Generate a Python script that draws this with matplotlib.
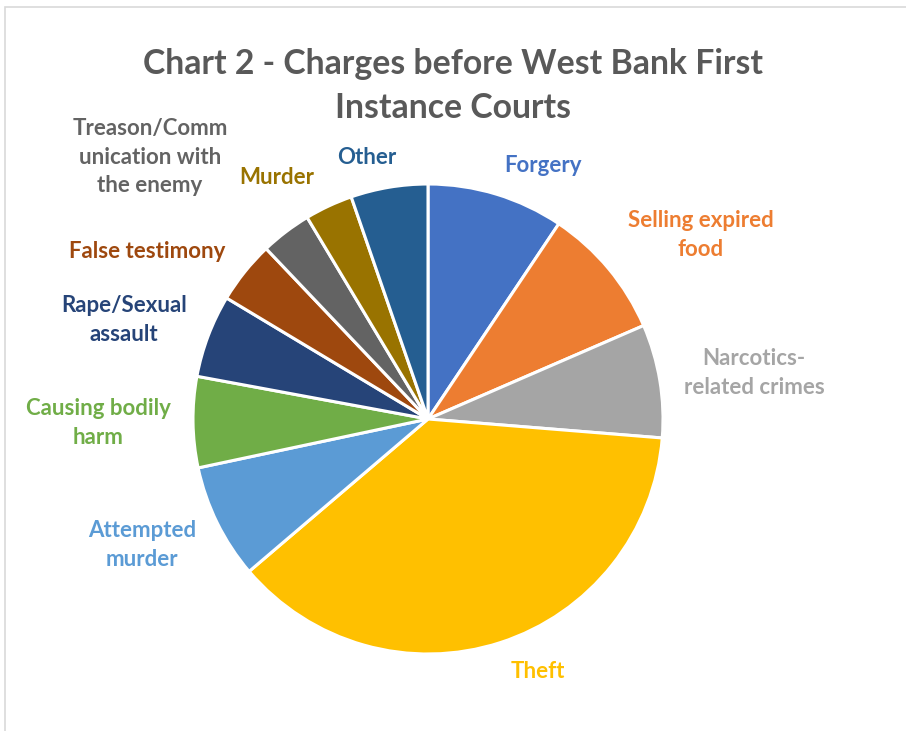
import matplotlib.pyplot as plt
from matplotlib.patches import Rectangle

charges = ["Forgery", "Selling expired food", "Narcotics-related crimes", "Theft",
           "Attempted murder", "Causing bodily harm", "Rape/Sexual assault",
           "False testimony", "Treason/Communication with the enemy", "Murder", "Other"]
shares = [9.4, 9.1, 7.8, 37.5, 7.9, 6.25, 5.7, 4.3, 3.5, 3.3, 5.3]
colours = ["#4472C4", "#ED7D31", "#A5A5A5", "#FFC000", "#5B9BD5", "#70AD47",
           "#264478", "#9E480E", "#636363", "#997300", "#255E91"]

# label text as wrapped in the chart, and where it sits (pixels from top left)
label_text = ["Forgery", "Selling expired\nfood", "Narcotics-\nrelated crimes", "Theft",
              "Attempted\nmurder", "Causing bodily\nharm", "Rape/Sexual\nassault",
              "False testimony", "Treason/Comm\nunication with\nthe enemy", "Murder", "Other"]
label_pos = [(543, 166), (701, 235), (754, 373), (538, 672), (142, 545), (98, 423),
             (124, 320), (147, 251), (150, 157), (277, 178), (367, 158)]

W, H = 906, 731
plt.rcParams['font.family'] = ['Lato', 'DejaVu Sans']
fig = plt.figure(figsize=(W / 100, H / 100), dpi=100)
ax = fig.add_axes([0, 0, 1, 1])
ax.set_xlim(0, W)
ax.set_ylim(0, H)
ax.axis("off")

# chart frame
ax.add_patch(Rectangle((5, -20), W + 20, H - 7 + 20, fill=False,
                       edgecolor="#D9D9D9", linewidth=1.2))

ax.pie(shares, colors=colours, startangle=90, counterclock=False,
       center=(428, H - 419), radius=235,
       wedgeprops=dict(edgecolor="white", linewidth=2.2))
ax.set_xlim(0, W)
ax.set_ylim(0, H)

for txt, (x, y), c in zip(label_text, label_pos, colours):
    ax.text(x, H - y, txt, color=c, fontsize=16, fontweight="bold",
            ha="center", va="center", linespacing=1.45)

ax.text(453, H - 86, "Chart 2 - Charges before West Bank First\nInstance Courts",
        color="#595959", fontsize=24.3, fontweight="bold", ha="center", va="center",
        linespacing=1.5)

fig.savefig("out.png", dpi=100)
